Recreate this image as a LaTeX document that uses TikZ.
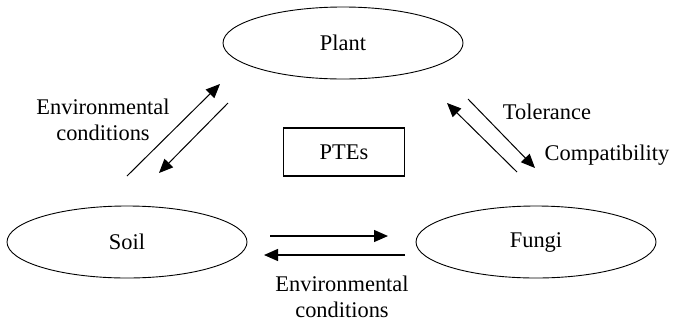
\documentclass[tikz,border=0pt]{standalone}
\usepackage{fontspec}
\setmainfont{Liberation Serif}
\usetikzlibrary{arrows.meta,shapes.geometric}

\begin{document}
\begin{tikzpicture}[x=1bp,y=-1bp,
  every node/.style={font=\fontsize{22.5}{26}\selectfont},
  oval/.style={draw,ellipse,minimum width=240bp,minimum height=72bp,line width=0.9bp},
  ptebox/.style={draw,minimum width=121bp,minimum height=48bp,line width=1.1bp},
  flow/.style={line width=1bp,-{Triangle[length=14bp,width=12bp]}}]
\useasboundingbox (0,0) rectangle (674,324);
% the three partners and PTEs in the middle
\node[oval] (plant) at (343,43) {Plant};
\node[oval] (soil) at (127,242) {Soil};
\node[oval] (fungi) at (536,242) {Fungi};
\node[ptebox] (ptes) at (344,152) {PTEs};
% arrow ends
\coordinate (s1) at (127,176); \coordinate (p1) at (220,84);
\coordinate (p2) at (228,103); \coordinate (s2) at (159,173);
\coordinate (f1) at (517,172); \coordinate (p3) at (447,103);
\coordinate (p4) at (468,99);  \coordinate (f2) at (535,168);
\coordinate (s3) at (270,236); \coordinate (f3) at (388,236);
\coordinate (f4) at (405,255); \coordinate (s4) at (264,255);
\draw[flow] (s1) -- (p1);
\draw[flow] (p2) -- (s2);
\draw[flow] (f1) -- (p3);
\draw[flow] (p4) -- (f2);
\draw[flow,line width=1.3bp] (s3) -- (f3);
\draw[flow,line width=1.3bp] (f4) -- (s4);
% labels
\node[align=center] (envleft) at (103,120) {Environmental\\conditions};
\node[align=center] (envbottom) at (342,297) {Environmental\\conditions};
\node (tol) at (547,112) {Tolerance};
\node (comp) at (607,155) {Compatibility};
\end{tikzpicture}
\end{document}
